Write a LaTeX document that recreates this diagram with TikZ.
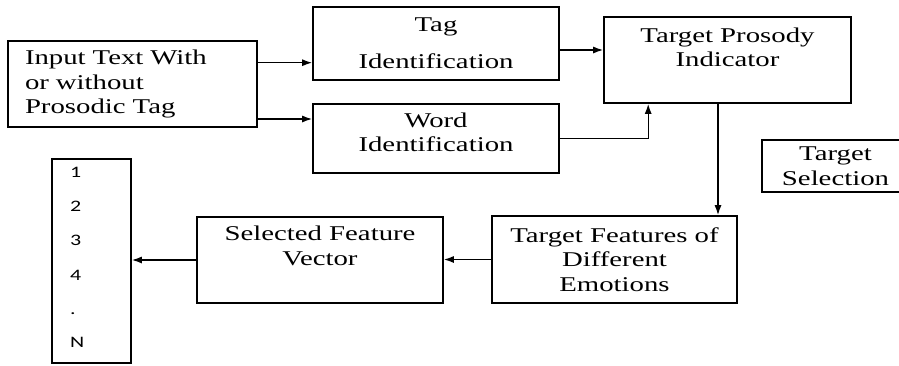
\documentclass[tikz,border=0pt]{standalone}
\usepackage{fontspec}
\setmainfont[FakeStretch=1.37]{Liberation Serif}
\newfontfamily\listfont[FakeStretch=1.37]{Carlito}
\usetikzlibrary{positioning, calc, arrows.meta}

\tikzset{
    box/.style={draw, line width=1.6pt, inner sep=0pt, align=center,
                font=\fontsize{21}{24.5}\selectfont},
    txt/.style={inner sep=0pt, align=center, font=\fontsize{21}{24.5}\selectfont},
    arr/.style={-{Latex[length=10pt,width=7pt]}, line width=1.4pt},
    item/.style={inner sep=0pt, anchor=base west, font=\listfont\fontsize{16}{18}\selectfont}
}

\begin{document}
\begin{tikzpicture}[x=1pt, y=-1pt]

    \useasboundingbox (0,0) rectangle (899,365);

    % ==========================================
    % TOP ROW: input, tag / word, indicator
    % ==========================================
    \node[box, minimum width=249pt, minimum height=86pt, text width=215pt, align=left]
        (input) at (132.5,84) {Input Text With\\or without\\Prosodic Tag};

    \node[box, minimum width=246pt, minimum height=73pt] (tag) at (436,43.5)
        {Tag\\[12.5pt]Identification};

    \node[box, minimum width=246pt, minimum height=69pt] (word) at (436,138.5) {};
    \node[txt] (wordtxt) at ([yshift=6pt]word.center) {Word\\Identification};

    \node[box, minimum width=247pt, minimum height=86pt] (tpi) at (727.5,60) {};
    \node[txt] (tpitxt) at ([yshift=12.5pt]tpi.center) {Target Prosody\\Indicator};

    % Box on the right, cut by the page edge
    \node[box, minimum width=147pt, minimum height=52pt] (tsel) at (835.5,166)
        {Target\\Selection};

    % ==========================================
    % BOTTOM ROW: features, vector, list
    % ==========================================
    \node[box, minimum width=245pt, minimum height=87pt] (tfeat) at (614.5,259.5)
        {Target Features of\\Different\\Emotions};

    \node[box, minimum width=246pt, minimum height=86pt] (sfv) at (320,260) {};
    \node[txt] (sfvtxt) at ([yshift=14pt]sfv.center) {Selected Feature\\Vector};

    \node[box, minimum width=79pt, minimum height=204pt] (list) at (91.5,261) {};

    % List entries
    \foreach \lbl/\yy [count=\i] in {1/177, 2/211, 3/245, 4/280, ./314, N/347}
        \node[item] (item\i) at (70,\yy) {\lbl};

    % ==========================================
    % Connectors
    % ==========================================
    \draw[arr] ([yshift=21.3pt]input.east) coordinate (a1) -- (a1 -| tag.west);
    \draw[arr] ([yshift=-35pt]input.east) coordinate (a2) -- (a2 -| word.west);
    \draw[arr] ([yshift=-6.5pt]tag.east) coordinate (a3) -- (a3 -| tpi.west);
    \draw[arr] (word.east) -| ([xshift=45pt]tpi.south west);
    \draw[arr] ([xshift=-9.5pt]tpi.south) coordinate (a4) -- (a4 |- tfeat.north);
    \draw[arr] (tfeat.west) -- (tfeat.west -| sfv.east);
    \draw[arr] (sfv.west) -- (sfv.west -| list.east);

\end{tikzpicture}
\end{document}
